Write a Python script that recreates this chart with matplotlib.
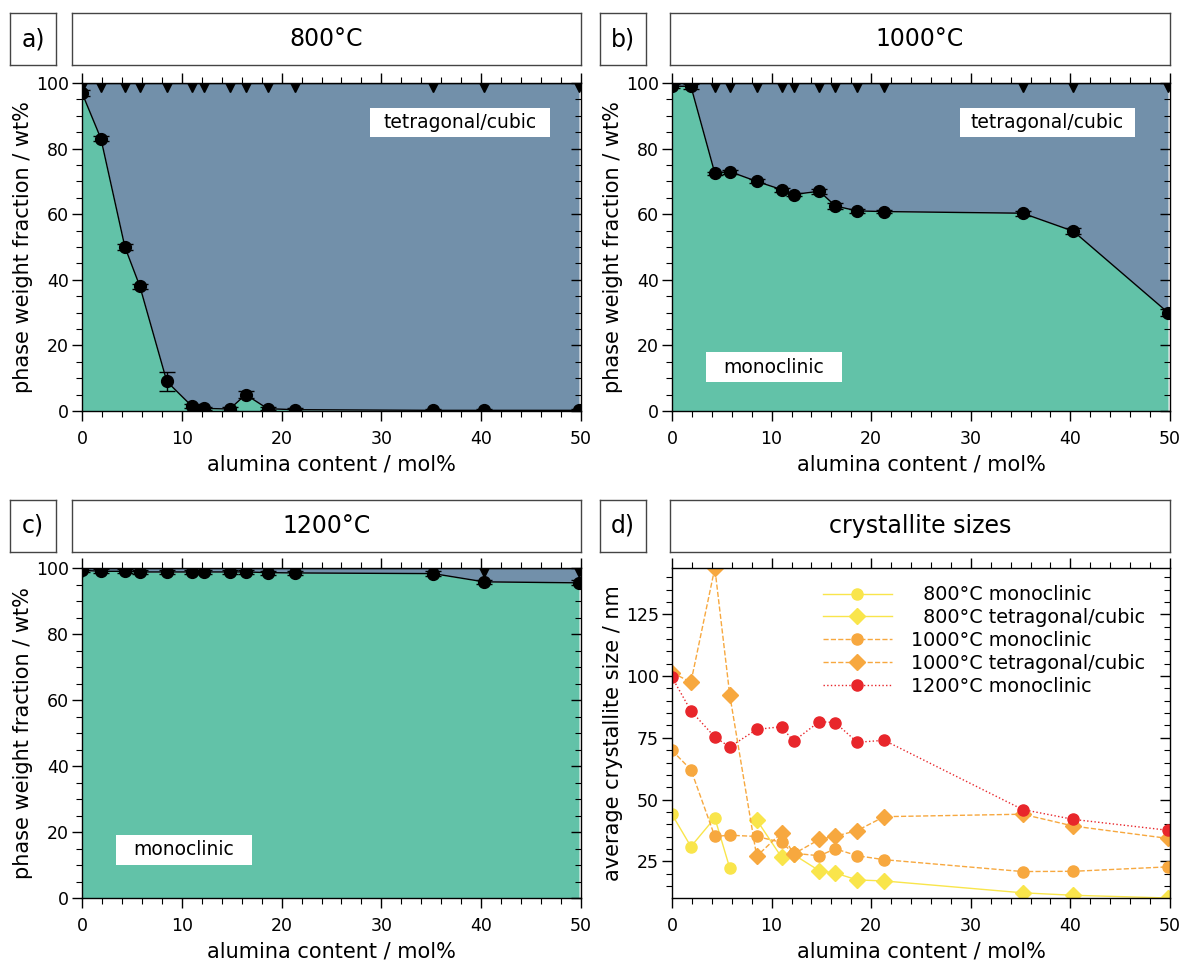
import matplotlib
matplotlib.use("Agg")
import matplotlib.pyplot as plt
import matplotlib.lines as mlines
from matplotlib.ticker import MultipleLocator
from matplotlib.patches import Rectangle
import numpy as np

# ---------------- data ----------------
alumina = [0.0, 1.9, 4.3, 5.8, 8.5, 11.0, 12.2, 14.8, 16.4, 18.6, 21.3, 35.2, 40.3, 49.8]

mono_800 = [97.0, 83.0, 50.0, 38.0, 9.0, 1.5, 0.8, 0.6, 5.0, 0.7, 0.4, 0.2, 0.2, 0.2]
err_800 = [1.0, 0.7, 1.0, 0.8, 3.0, 0.6, 0.5, 0.5, 1.0, 0.5, 0.5, 0.3, 0.3, 0.3]

mono_1000 = [99.0, 99.0, 72.5, 73.0, 70.0, 67.5, 66.0, 67.0, 62.5, 61.0, 60.8, 60.3, 54.8, 30.0]
err_1000 = [0.6, 0.7, 0.5, 0.6, 0.6, 0.6, 0.6, 0.8, 0.8, 0.6, 0.5, 0.8, 0.9, 1.0]

mono_1200 = [99.3, 99.0, 99.0, 98.8, 98.8, 98.8, 98.8, 98.8, 98.8, 98.6, 98.5, 98.3, 95.8, 95.5]
err_1200 = [0.6, 0.6, 0.6, 0.6, 0.6, 0.6, 0.6, 0.6, 0.6, 0.6, 0.6, 0.8, 0.7, 0.8]

# crystallite sizes (nm)
x_800_m = [0.0, 1.9, 4.3, 5.8]
size_800_m = [44.0, 31.0, 42.6, 22.3]
x_800_t = [8.5, 11.0, 12.2, 14.8, 16.4, 18.6, 21.3, 35.2, 40.3, 49.8]
size_800_t = [41.8, 26.7, 27.8, 21.2, 20.3, 17.5, 17.1, 12.3, 11.3, 10.2]
size_1000_m = [69.9, 62.1, 35.1, 35.6, 35.1, 32.7, 28.3, 27.3, 30.1, 27.3, 25.7, 20.9, 21.0, 22.8]
size_1000_t = [101.4, 97.5, 143.7, 92.3, 27.1, 36.6, 28.0, 33.9, 35.2, 37.5, 43.1, 44.1, 39.3, 34.3]
size_1200_m = [99.5, 85.9, 75.3, 71.3, 78.4, 79.5, 73.6, 81.6, 81.1, 73.2, 74.0, 46.0, 42.0, 37.6]

temps = ["800°C", "1000°C", "1200°C"]
panel_letters = ["a)", "b)", "c)", "d)"]
legend_labels = ["  800°C monoclinic", "  800°C tetragonal/cubic",
                 "1000°C monoclinic", "1000°C tetragonal/cubic", "1200°C monoclinic"]

# ---------------- style ----------------
GREEN = "#62c2a8"
BLUE = "#7290aa"
YELLOW = "#f9e54b"
ORANGE = "#f7a83f"
RED = "#e8262b"

plt.rcParams["font.family"] = ["DejaVu Sans"]
plt.rcParams["xtick.labelsize"] = 12.5
plt.rcParams["ytick.labelsize"] = 12.5

W, H = 1179, 964
fig = plt.figure(figsize=(W / 100, H / 100), dpi=100)


def fx(px):
    return px / W


def fy(py):
    return 1 - py / H


ax_rects = {
    0: (82, 83, 581, 411),
    1: (672, 83, 1170, 411),
    2: (82, 568, 581, 898),
    3: (672, 568, 1170, 898),
}
header_rows = {0: (13, 65), 1: (13, 65), 2: (500, 552), 3: (500, 552)}
letter_x = {0: (10, 56), 1: (600, 646), 2: (10, 56), 3: (600, 646)}
title_x = {0: (72, 581), 1: (670, 1170), 2: (72, 581), 3: (670, 1170)}
titles = temps + ["crystallite sizes"]


def header_box(x0, x1, y0, y1, text):
    a = fig.add_axes([fx(x0), fy(y1), fx(x1 - x0), (y1 - y0) / H])
    a.set_xticks([])
    a.set_yticks([])
    for s in a.spines.values():
        s.set_color("#444444")
        s.set_linewidth(1.0)
    a.text(0.5, 0.5, text, ha="center", va="center", fontsize=17, transform=a.transAxes)


axes = []
for i in range(4):
    x0, y0, x1, y1 = ax_rects[i]
    ax = fig.add_axes([fx(x0), fy(y1), fx(x1 - x0), (y1 - y0) / H])
    axes.append(ax)
    hy0, hy1 = header_rows[i]
    header_box(letter_x[i][0], letter_x[i][1], hy0, hy1, panel_letters[i])
    header_box(title_x[i][0], title_x[i][1], hy0, hy1, titles[i])


def style_axis(ax, ymajor, yminor):
    ax.set_xlim(0, 50)
    ax.xaxis.set_major_locator(MultipleLocator(10))
    ax.xaxis.set_minor_locator(MultipleLocator(2))
    ax.yaxis.set_major_locator(MultipleLocator(ymajor))
    ax.yaxis.set_minor_locator(MultipleLocator(yminor))
    ax.set_xlabel("alumina content / mol%", fontsize=15, labelpad=5)
    for s in ax.spines.values():
        s.set_linewidth(1.0)
    ax.tick_params(which="both", top=True, right=True, direction="out", labelsize=12.5)
    ax.tick_params(which="major", length=7, width=1)
    ax.tick_params(which="minor", length=4, width=0.8)
    ax.tick_params(axis="x", which="major", pad=6.5)
    ax.tick_params(axis="y", which="major", pad=2.5)


def label_box(ax, x0, x1, y0, y1, text):
    ax.add_patch(Rectangle((x0, y0), x1 - x0, y1 - y0, facecolor="white",
                           edgecolor="none", zorder=5))
    ax.text((x0 + x1) / 2, (y0 + y1) / 2, text, fontsize=13.5, ha="center",
            va="center", zorder=6)


monos = [mono_800, mono_1000, mono_1200]
errs = [err_800, err_1000, err_1200]
for i in range(3):
    ax = axes[i]
    m = np.array(monos[i])
    x = np.array(alumina)
    ax.fill_between(x, 0, m, color=GREEN, lw=0, zorder=1)
    ax.fill_between(x, m, 100, color=BLUE, lw=0, zorder=1)
    ax.plot(x, np.full_like(x, 100.0), color="black", lw=1, marker="v", ms=13, zorder=3)
    ax.errorbar(x, m, yerr=errs[i], color="black", lw=1, marker="o", ms=8.5,
                capsize=6, elinewidth=1, capthick=1, zorder=4)
    ax.set_ylim(0, 100)
    ax.set_ylabel("phase weight fraction / wt%", fontsize=15, labelpad=2)
    style_axis(ax, 20, 5)

label_box(axes[0], 28.9, 46.9, 83.5, 92.4, "tetragonal/cubic")
label_box(axes[1], 28.9, 46.5, 83.5, 92.4, "tetragonal/cubic")
label_box(axes[1], 3.4, 17.1, 8.8, 18.0, "monoclinic")
label_box(axes[2], 3.4, 17.0, 10.0, 19.1, "monoclinic")

# panel d
ax = axes[3]
ax.plot(x_800_m, size_800_m, color=YELLOW, ls="-", lw=1, marker="o", ms=8, label=legend_labels[0])
ax.plot(x_800_t, size_800_t, color=YELLOW, ls="-", lw=1, marker="D", ms=8, label=legend_labels[1])
ax.plot(alumina, size_1000_m, color=ORANGE, ls="--", lw=1, marker="o", ms=8, label=legend_labels[2])
ax.plot(alumina, size_1000_t, color=ORANGE, ls="--", lw=1, marker="D", ms=8, label=legend_labels[3])
ax.plot(alumina, size_1200_m, color=RED, ls=":", lw=1, marker="o", ms=8, label=legend_labels[4])
allv = size_800_m + size_800_t + size_1000_m + size_1000_t + size_1200_m
ax.set_ylim(min(allv), max(allv))
ax.set_ylabel("average crystallite size / nm", fontsize=15, labelpad=2)
style_axis(ax, 25, 5)
ax.legend(loc="upper right", frameon=False, fontsize=13.8, handlelength=3.6,
          labelspacing=0.2, handletextpad=1.0, bbox_to_anchor=(0.985, 1.0))

# make right-hand ticks point inward
fig.canvas.draw()
for ax in axes:
    for t in ax.yaxis.get_major_ticks() + ax.yaxis.get_minor_ticks():
        t.tick2line.set_marker(mlines.TICKLEFT)

fig.savefig("out.png", dpi=100)
